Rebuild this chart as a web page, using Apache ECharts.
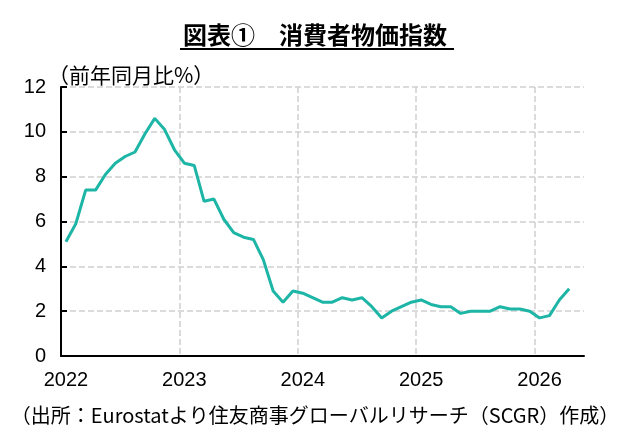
<!DOCTYPE html>
<html>
<head>
<meta charset="utf-8">
<script src="https://cdn.jsdelivr.net/npm/echarts@6/dist/echarts.min.js"></script>
<style>
html,body{margin:0;padding:0;background:#fff;}
#main{width:630px;height:435px;}
</style>
</head>
<body>
<div id="main"></div>
<script>
// 前年同月比（%）ユーロ圏HICP
var years = ['2022', '2023', '2024', '2025', '2026'];
var cpi2022 = [5.1, 5.9, 7.4, 7.4, 8.1, 8.6, 8.9, 9.1, 9.9, 10.6, 10.1, 9.2];
var cpi2023 = [8.6, 8.5, 6.9, 7.0, 6.1, 5.5, 5.3, 5.2, 4.3, 2.9, 2.4, 2.9];
var cpi2024 = [2.8, 2.6, 2.4, 2.4, 2.6, 2.5, 2.6, 2.2, 1.7, 2.0, 2.2, 2.4];
var cpi2025 = [2.5, 2.3, 2.2, 2.2, 1.9, 2.0, 2.0, 2.0, 2.2, 2.1, 2.1, 2.0];
var cpi2026 = [1.7, 1.8, 2.5, 3.0, null];
var yTicks = [0, 2, 4, 6, 8, 10, 12];

(function setline(){
    var chart = echarts.init(document.getElementById('main'));
    var allData = [cpi2022, cpi2023, cpi2024, cpi2025, cpi2026];
    var months = [], values = [];
    allData.forEach(function (arr, i) {
        arr.forEach(function (v, m) {
            months.push(years[i] + '-' + (m + 1));
            values.push(v);
        });
    });
    var everyYear = function (idx) { return idx % 12 === 0; };
    // 右端の縦グリッドは描かない
    var gridColors = ['#d0d0d0', '#d0d0d0', '#d0d0d0', '#d0d0d0', '#d0d0d0', 'rgba(0,0,0,0)'];

    var option = {
    animation: false,
    title: [
        {
            text: '図表①　消費者物価指数',
            left: 'center',
            top: 18,
            textStyle: {
                fontSize: 24,
                fontWeight: 'bold',
                color: '#000',
                fontFamily: 'Noto Sans CJK JP'
            }
        },
        {
            text: '（前年同月比%）',
            left: 43,
            top: 60,
            textStyle: {
                fontSize: 21,
                fontWeight: 'normal',
                color: '#000',
                fontFamily: 'Noto Sans CJK JP'
            }
        },
        {
            text: '（出所：Eurostatより住友商事グローバルリサーチ（SCGR）作成）',
            left: 'center',
            top: 400,
            textStyle: {
                fontSize: 20,
                fontWeight: 'normal',
                color: '#000',
                fontFamily: 'Noto Sans CJK JP'
            }
        }
    ],
    graphic: [
        {
            type: 'rect',
            shape: {x: 180, y: 48, width: 274, height: 2},
            style: {fill: '#000'}
        }
    ],
    grid: {left: 61, right: 46, top: 87, bottom: 79, containLabel: false},
    xAxis: {
        type: 'category',
        boundaryGap: true,
        data: months,
        axisLine: {lineStyle: {color: '#000', width: 2}},
        axisTick: {inside: true, length: 6, interval: everyYear, lineStyle: {color: '#000', width: 2}},
        splitLine: {show: true, interval: everyYear, lineStyle: {color: gridColors, type: 'dashed', width: 1.5}},
        axisLabel: {
            interval: everyYear,
            margin: 14,
            fontSize: 20,
            color: '#000',
            fontFamily: 'Liberation Sans',
            formatter: function (v) { return v.split('-')[0]; }
        }
    },
    yAxis: {
        type: 'value',
        min: yTicks[0],
        max: yTicks[yTicks.length - 1],
        interval: 2,
        axisLine: {show: true, lineStyle: {color: '#000', width: 2}},
        axisTick: {show: true, inside: true, length: 6, lineStyle: {color: '#000', width: 2}},
        splitLine: {lineStyle: {color: '#d0d0d0', type: 'dashed', width: 1.5}},
        axisLabel: {
            margin: 15,
            fontSize: 20,
            color: '#000',
            fontFamily: 'Liberation Sans'
        }
    },
    series: [
        {
            type: 'line',
            data: values,
            symbol: 'none',
            lineStyle: {color: '#1db5a6', width: 3},
            itemStyle: {color: '#1db5a6'}
        }
    ]
    };

    chart.setOption(option);
})();
</script>
</body>
</html>
